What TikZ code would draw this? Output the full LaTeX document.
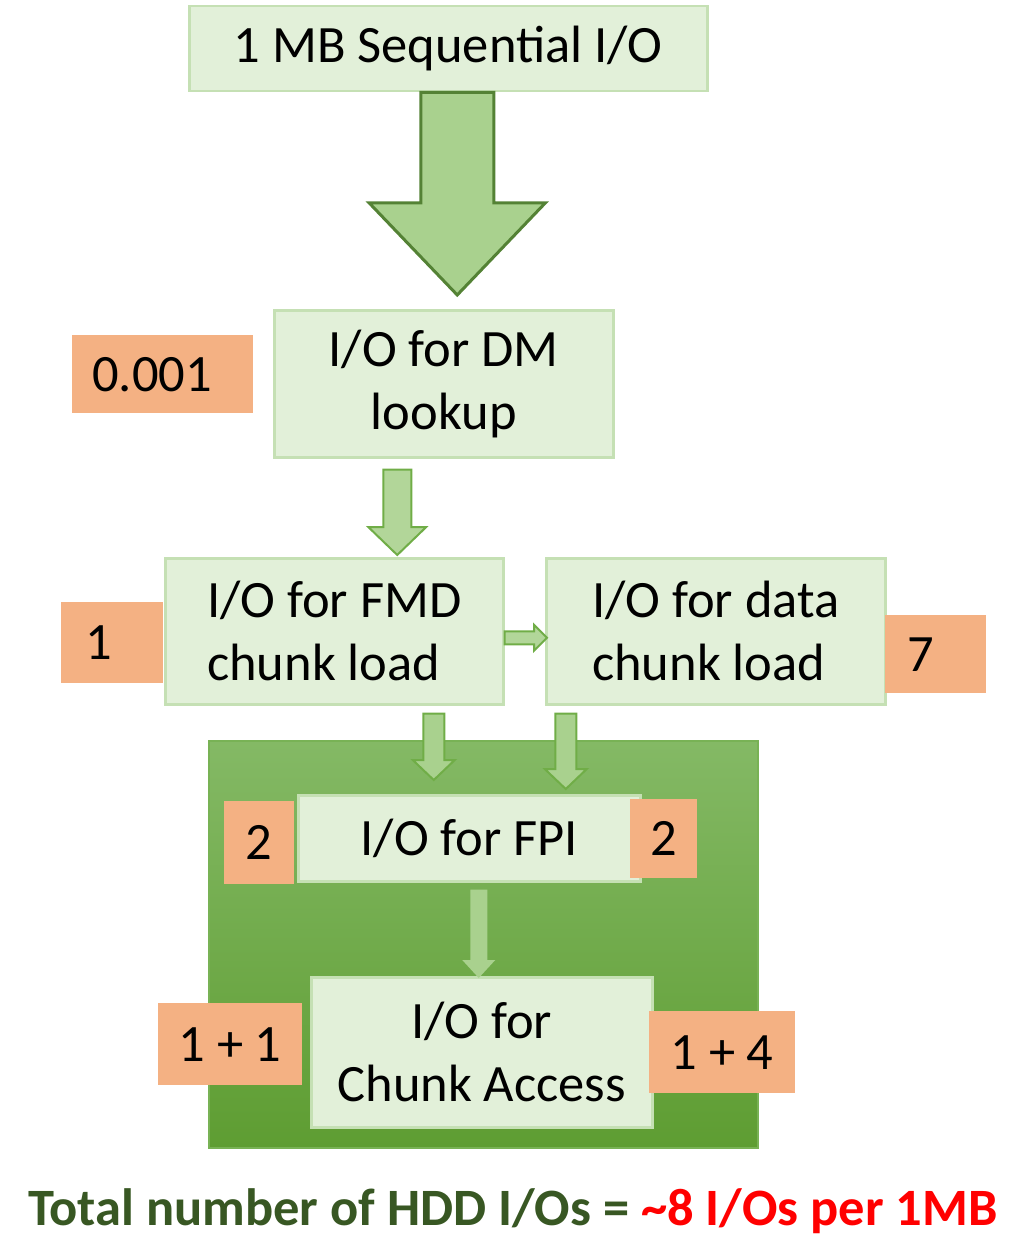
\documentclass[tikz,border=0pt]{standalone}
\usepackage{fontspec}
\setmainfont{Carlito}
\usetikzlibrary{calc}
\definecolor{boxfill}{RGB}{226,240,217}
\definecolor{boxline}{RGB}{197,224,180}
\definecolor{salmon}{RGB}{244,177,131}
\definecolor{bigfill}{RGB}{169,209,142}
\definecolor{bigline}{RGB}{84,130,53}
\definecolor{smfill}{RGB}{178,214,153}
\definecolor{smline}{RGB}{112,173,71}
\definecolor{gtop}{RGB}{132,185,101}
\definecolor{gbot}{RGB}{94,157,50}
\definecolor{gline}{RGB}{120,178,85}
\definecolor{titlegreen}{RGB}{56,87,35}
\newcommand{\vblock}[6]{%
  \draw[#1] let \p1=(#2), \p2=(#3) in
  (\x2-#4,\y1) -- (\x2-#4,\y2+#6) -- (\x2-#5,\y2+#6) -- (\x2,\y2) --
  (\x2+#5,\y2+#6) -- (\x2+#4,\y2+#6) -- (\x2+#4,\y1) -- cycle;}
\newcommand{\hblock}[6]{%
  \draw[#1] let \p1=(#2), \p2=(#3) in
  (\x1,\y2+#4) -- (\x2-#6,\y2+#4) -- (\x2-#6,\y2+#5) -- (\x2,\y2) --
  (\x2-#6,\y2-#5) -- (\x2-#6,\y2-#4) -- (\x1,\y2-#4) -- cycle;}
\newcommand{\nsp}{\hspace{0.22em}}
\begin{document}
\begin{tikzpicture}[x=1pt,y=-1pt,
  lbox/.style={draw=boxline, line width=2.5pt, fill=boxfill, anchor=north west,
    inner sep=0pt, font=\fontsize{52.5}{63}\selectfont},
  numbox/.style={fill=salmon, anchor=north west, inner ysep=0pt,
    font=\fontsize{52.5}{63}\selectfont},
  bigarrow/.style={fill=bigfill, draw=bigline, line width=3pt, line join=miter},
  smarrow/.style={fill=smfill, draw=smline, line width=2pt, line join=miter},
  inarrow/.style={fill=bigfill, draw=smline, line width=2pt, line join=miter},
]
\useasboundingbox (0,0) rectangle (1035,1238);

% group box
\node[draw=gline, line width=2pt, top color=gtop, bottom color=gbot,
  anchor=north west, minimum width=549pt, minimum height=407pt, inner sep=0pt]
  (grp) at (208,740) {};

% light boxes
\node[lbox, minimum width=518pt, minimum height=85pt] (top) at (188,5) {1 MB Sequential I/O};
\node[lbox, minimum width=339pt, minimum height=147pt, align=center] (dm) at (273,309) {I/O for DM\\lookup};
\node[lbox, minimum width=338pt, minimum height=146pt, align=left] (fmd) at (164,557) {I/O for FMD\\chunk load};
\node[lbox, minimum width=339pt, minimum height=146pt, align=left] (data) at (545,557) {I/O for data\\chunk load};
\node[lbox, minimum width=342pt, minimum height=86pt] (fpi) at (297,794) {I/O for FPI};
\node[lbox, minimum width=341pt, minimum height=150pt, align=center] (chunk) at (310,976) {I/O for\\Chunk Access};

% block arrows
\coordinate (a1s) at ($(top.south)+(9,0)$);
\coordinate (a1e) at ($(dm.north)+(13.5,-14)$);
\vblock{bigarrow}{a1s}{a1e}{36.5pt}{88pt}{92pt}

\coordinate (a2s) at ($(dm.south)+(-46.5,11)$);
\coordinate (a2e) at ($(fmd.north)+(63,-2)$);
\vblock{smarrow}{a2s}{a2e}{14pt}{29pt}{28pt}

\coordinate (a3s) at ($(fmd.east)+(0,6.5)$);
\coordinate (a3e) at ($(data.west)+(2,6.5)$);
\hblock{smarrow}{a3s}{a3e}{6.5pt}{13pt}{13pt}

\coordinate (a4s) at ($(fmd.south)+(99.5,8)$);
\coordinate (a4e) at ($(fpi.north)+(-35.5,-14)$);
\vblock{inarrow}{a4s}{a4e}{10.5pt}{21pt}{20pt}

\coordinate (a5s) at ($(data.south)+(-150,8)$);
\coordinate (a5e) at ($(fpi.north)+(96.5,-5)$);
\vblock{inarrow}{a5s}{a5e}{10.5pt}{21pt}{20pt}

\coordinate (a6s) at ($(fpi.south)+(9.5,7)$);
\coordinate (a6e) at ($(chunk.north)+(-3,2)$);
\vblock{fill=bigfill, draw=none}{a6s}{a6e}{8.5pt}{16.5pt}{18pt}

% number boxes
\node[numbox, text width=141pt, inner xsep=20pt, minimum height=78pt, align=left] (n1) at (72,335) {0.001};
\node[numbox, text width=54pt, inner xsep=24pt, minimum height=81pt, align=left] (n2) at (61,602) {1};
\node[numbox, text width=57pt, inner xsep=22pt, minimum height=78pt, align=left] (n3) at (885,615) {7};
\node[numbox, text width=50pt, inner xsep=10pt, minimum height=83pt, align=center] (n4) at (224,801) {2};
\node[numbox, text width=47pt, inner xsep=10pt, minimum height=79pt, align=center] (n5) at (630,799) {2};
\node[numbox, text width=124pt, inner xsep=10pt, minimum height=82pt, align=center] (n6) at (158,1003) {1\nsp+\nsp1};
\node[numbox, text width=126pt, inner xsep=10pt, minimum height=82pt, align=center] (n7) at (649,1011) {1\nsp+\nsp4};

% total text
\node[anchor=base, inner sep=0pt, font=\bfseries\fontsize{52.5}{60}\selectfont] (total) at (513,1225)
  {\textcolor{titlegreen}{Total number of HDD I/Os =} \textcolor{red}{\textasciitilde 8 I/Os per 1MB}};
\end{tikzpicture}
\end{document}
